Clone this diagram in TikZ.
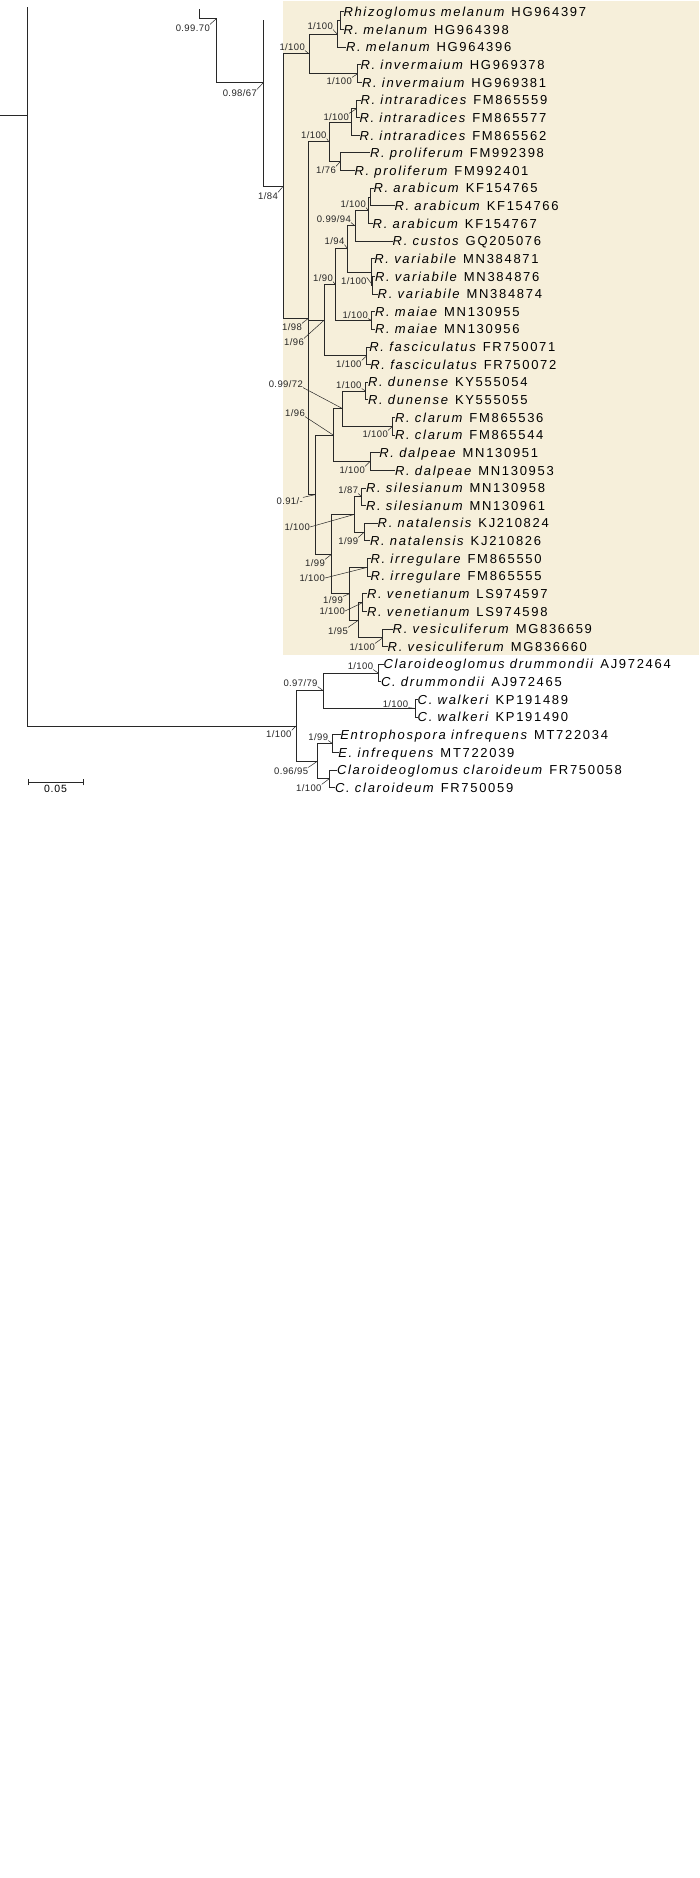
\documentclass[tikz,border=0pt]{standalone}
\usepackage{fontspec}
\newfontfamily\leaffam[LetterSpace=13]{Liberation Sans}
\newfontfamily\supfam[LetterSpace=4]{Liberation Sans}
\newfontfamily\barfam[LetterSpace=8]{Liberation Sans}
\definecolor{bgbeige}{RGB}{246,239,218}
\definecolor{treeline}{RGB}{40,40,40}
\tikzset{
  br/.style={draw=treeline,line width=1pt,line cap=rect},
  lead/.style={draw=treeline,line width=0.5pt},
  leaf/.style={anchor=west,inner sep=0pt,xshift=0.8pt,text height=9.3pt,text depth=0pt,font=\leaffam\fontsize{13}{15}\selectfont,text=black},
  sup/.style={anchor=east,inner sep=0pt,text height=6.8pt,text depth=0pt,font=\supfam\fontsize{9.5}{11}\selectfont,text=black!85},
}
\newcommand{\taxon}[2]{\textit{#1} #2}
\begin{document}
\begin{tikzpicture}[x=1pt,y=-1pt]
\useasboundingbox (0,0) rectangle (700,1878);
\fill[bgbeige] (283.3,1) rectangle (699,655);
% ---------- leaves ----------
\node[leaf] (l0) at (342.5,12.0) {\taxon{Rhizoglomus melanum}{HG964397}};
\node[leaf] (l1) at (342.5,29.6) {\taxon{R. melanum}{HG964398}};
\node[leaf] (l2) at (345.0,47.3) {\taxon{R. melanum}{HG964396}};
\node[leaf] (l3) at (359.5,64.9) {\taxon{R. invermaium}{HG969378}};
\node[leaf] (l4) at (361.0,82.5) {\taxon{R. invermaium}{HG969381}};
\node[leaf] (l5) at (359.5,100.2) {\taxon{R. intraradices}{FM865559}};
\node[leaf] (l6) at (358.5,117.8) {\taxon{R. intraradices}{FM865577}};
\node[leaf] (l7) at (358.5,135.4) {\taxon{R. intraradices}{FM865562}};
\node[leaf] (l8) at (369.0,153.0) {\taxon{R. proliferum}{FM992398}};
\node[leaf] (l9) at (353.5,170.7) {\taxon{R. proliferum}{FM992401}};
\node[leaf] (l10) at (372.5,188.3) {\taxon{R. arabicum}{KF154765}};
\node[leaf] (l11) at (393.5,205.9) {\taxon{R. arabicum}{KF154766}};
\node[leaf] (l12) at (371.7,223.6) {\taxon{R. arabicum}{KF154767}};
\node[leaf] (l13) at (391.7,241.2) {\taxon{R. custos}{GQ205076}};
\node[leaf] (l14) at (373.3,258.8) {\taxon{R. variabile}{MN384871}};
\node[leaf] (l15) at (374.0,276.5) {\taxon{R. variabile}{MN384876}};
\node[leaf] (l16) at (376.7,294.1) {\taxon{R. variabile}{MN384874}};
\node[leaf] (l17) at (374.0,311.7) {\taxon{R. maiae}{MN130955}};
\node[leaf] (l18) at (374.0,329.3) {\taxon{R. maiae}{MN130956}};
\node[leaf] (l19) at (368.3,347.0) {\taxon{R. fasciculatus}{FR750071}};
\node[leaf] (l20) at (369.3,364.6) {\taxon{R. fasciculatus}{FR750072}};
\node[leaf] (l21) at (367.0,382.2) {\taxon{R. dunense}{KY555054}};
\node[leaf] (l22) at (367.0,399.9) {\taxon{R. dunense}{KY555055}};
\node[leaf] (l23) at (394.0,417.5) {\taxon{R. clarum}{FM865536}};
\node[leaf] (l24) at (394.0,435.1) {\taxon{R. clarum}{FM865544}};
\node[leaf] (l25) at (378.3,452.8) {\taxon{R. dalpeae}{MN130951}};
\node[leaf] (l26) at (394.0,470.4) {\taxon{R. dalpeae}{MN130953}};
\node[leaf] (l27) at (365.0,488.0) {\taxon{R. silesianum}{MN130958}};
\node[leaf] (l28) at (365.0,505.6) {\taxon{R. silesianum}{MN130961}};
\node[leaf] (l29) at (376.7,523.3) {\taxon{R. natalensis}{KJ210824}};
\node[leaf] (l30) at (369.0,540.9) {\taxon{R. natalensis}{KJ210826}};
\node[leaf] (l31) at (369.5,558.5) {\taxon{R. irregulare}{FM865550}};
\node[leaf] (l32) at (369.5,576.2) {\taxon{R. irregulare}{FM865555}};
\node[leaf] (l33) at (366.0,593.8) {\taxon{R. venetianum}{LS974597}};
\node[leaf] (l34) at (366.0,611.4) {\taxon{R. venetianum}{LS974598}};
\node[leaf] (l35) at (391.7,629.1) {\taxon{R. vesiculiferum}{MG836659}};
\node[leaf] (l36) at (386.7,646.7) {\taxon{R. vesiculiferum}{MG836660}};
\node[leaf] (l37) at (382.5,664.3) {\taxon{Claroideoglomus drummondii}{AJ972464}};
\node[leaf] (l38) at (380.0,681.9) {\taxon{C. drummondii}{AJ972465}};
\node[leaf] (l39) at (416.7,699.6) {\taxon{C. walkeri}{KP191489}};
\node[leaf] (l40) at (416.7,717.2) {\taxon{C. walkeri}{KP191490}};
\node[leaf] (l41) at (339.3,734.8) {\taxon{Entrophospora infrequens}{MT722034}};
\node[leaf] (l42) at (337.3,752.5) {\taxon{E. infrequens}{MT722039}};
\node[leaf] (l43) at (336.0,770.1) {\taxon{Claroideoglomus claroideum}{FR750058}};
\node[leaf] (l44) at (334.0,787.7) {\taxon{C. claroideum}{FR750059}};
% ---------- internal nodes ----------
\coordinate (rstem) at (0,116);
\coordinate (root) at (27,116);
\coordinate (rtop) at (27,8);
\coordinate (n1top) at (199,10);
\coordinate (n2) at (216,19);
\coordinate (n3top) at (263,21);
\coordinate (n3) at (263,83);
\coordinate (D) at (283.3,186.1);
\coordinate (C) at (309.3,53.9);
\coordinate (B) at (337.3,34.05);
\coordinate (A) at (340,20.8);
\coordinate (E) at (357.7,73.7);
\coordinate (J) at (308.3,318.4);
\coordinate (I) at (329,142.0);
\coordinate (F) at (351,122.2);
\coordinate (G) at (356,109.0);
\coordinate (H) at (340,161.9);
\coordinate (S) at (324,320.3);
\coordinate (Q) at (335.5,284.7);
\coordinate (P) at (347.7,248.9);
\coordinate (N) at (355,225.8);
\coordinate (M) at (368.3,210.4);
\coordinate (L) at (370.5,197.1);
\coordinate (O) at (371,272.0);
\coordinate (O2) at (372.7,285.3);
\coordinate (R) at (371.7,320.5);
\coordinate (T) at (366.7,355.8);
\coordinate (Z) at (315,494.7);
\coordinate (Y) at (333.3,435.1);
\coordinate (W) at (342.7,408.7);
\coordinate (U) at (365.7,391.05);
\coordinate (V) at (392.7,426.3);
\coordinate (X) at (370,461.6);
\coordinate (AE) at (331.7,554.2);
\coordinate (AB) at (354,514.5);
\coordinate (AC) at (361.7,496.8);
\coordinate (AD) at (364.3,532.1);
\coordinate (AF) at (349.3,593.8);
\coordinate (IR) at (367.3,567.35);
\coordinate (AG) at (358.3,620.3);
\coordinate (AH) at (362.7,602.6);
\coordinate (AI) at (382.7,637.9);
\coordinate (OG) at (296,726.0);
\coordinate (OG1) at (323.3,690.75);
\coordinate (DR) at (378.3,673.1);
\coordinate (WK) at (415,708.4);
\coordinate (OG2) at (317.3,761.3);
\coordinate (EN) at (332.7,743.65);
\coordinate (CL) at (329,778.9);
% ---------- branches ----------
\draw[br] (rstem) -- (root);
\draw[br] (rtop) |- (OG);
\draw[br] (n1top) |- (n2);
\draw[br] (n2) |- (n3);
\draw[br] (n3top) -- (n3);
\draw[br] (n3) |- (D);
\draw[br] (D) |- (C);
\draw[br] (D) |- (J);
\draw[br] (C) |- (B);
\draw[br] (C) |- (E);
\draw[br] (B) |- (A);
\draw[br] (B) |- (l2.west);
\draw[br] (A) |- (l0.west);
\draw[br] (A) |- (l1.west);
\draw[br] (E) |- (l3.west);
\draw[br] (E) |- (l4.west);
\draw[br] (J) |- (I);
\draw[br] (J) |- (S);
\draw[br] (J) |- (Z);
\draw[br] (I) |- (F);
\draw[br] (I) |- (H);
\draw[br] (F) |- (G);
\draw[br] (F) |- (l7.west);
\draw[br] (G) |- (l5.west);
\draw[br] (G) |- (l6.west);
\draw[br] (H) |- (l8.west);
\draw[br] (H) |- (l9.west);
\draw[br] (S) |- (Q);
\draw[br] (S) |- (T);
\draw[br] (Q) |- (P);
\draw[br] (Q) |- (R);
\draw[br] (P) |- (N);
\draw[br] (P) |- (O);
\draw[br] (N) |- (M);
\draw[br] (N) |- (l13.west);
\draw[br] (M) |- (L);
\draw[br] (M) |- (l12.west);
\draw[br] (L) |- (l10.west);
\draw[br] (L) |- (l11.west);
\draw[br] (O) |- (l14.west);
\draw[br] (O) |- (O2);
\draw[br] (O2) |- (l15.west);
\draw[br] (O2) |- (l16.west);
\draw[br] (R) |- (l17.west);
\draw[br] (R) |- (l18.west);
\draw[br] (T) |- (l19.west);
\draw[br] (T) |- (l20.west);
\draw[br] (Z) |- (Y);
\draw[br] (Z) |- (AE);
\draw[br] (Y) |- (W);
\draw[br] (Y) |- (X);
\draw[br] (W) |- (U);
\draw[br] (W) |- (V);
\draw[br] (U) |- (l21.west);
\draw[br] (U) |- (l22.west);
\draw[br] (V) |- (l23.west);
\draw[br] (V) |- (l24.west);
\draw[br] (X) |- (l25.west);
\draw[br] (X) |- (l26.west);
\draw[br] (AE) |- (AB);
\draw[br] (AE) |- (AF);
\draw[br] (AB) |- (AC);
\draw[br] (AB) |- (AD);
\draw[br] (AC) |- (l27.west);
\draw[br] (AC) |- (l28.west);
\draw[br] (AD) |- (l29.west);
\draw[br] (AD) |- (l30.west);
\draw[br] (AF) |- (IR);
\draw[br] (AF) |- (AG);
\draw[br] (IR) |- (l31.west);
\draw[br] (IR) |- (l32.west);
\draw[br] (AG) |- (AH);
\draw[br] (AG) |- (AI);
\draw[br] (AH) |- (l33.west);
\draw[br] (AH) |- (l34.west);
\draw[br] (AI) |- (l35.west);
\draw[br] (AI) |- (l36.west);
\draw[br] (OG) |- (OG1);
\draw[br] (OG) |- (OG2);
\draw[br] (OG1) |- (DR);
\draw[br] (OG1) |- (WK);
\draw[br] (DR) |- (l37.west);
\draw[br] (DR) |- (l38.west);
\draw[br] (WK) |- (l39.west);
\draw[br] (WK) |- (l40.west);
\draw[br] (OG2) |- (EN);
\draw[br] (OG2) |- (CL);
\draw[br] (EN) |- (l41.west);
\draw[br] (EN) |- (l42.west);
\draw[br] (CL) |- (l43.west);
\draw[br] (CL) |- (l44.west);
% ---------- support labels ----------
\node[sup] (s2) at (210,28) {0.99.70};      \draw[lead] (s2.north east) -- (n2);
\node[sup] (s3) at (257,93) {0.98/67};      \draw[lead] (s3.north east) -- (n3);
\node[sup] (sD) at (278,196) {1/84};        \draw[lead] (sD.north east) -- (D);
\node[sup] (sB) at (333,26) {1/100};        \draw[lead] (sB.south east) -- (B);
\node[sup] (sC) at (305,47) {1/100};        \draw[lead] (sC.south east) -- (C);
\node[sup] (sE) at (352,81) {1/100};        \draw[lead] (sE.north east) -- (E);
\node[sup] (sG) at (349,117) {1/100};       \draw[lead] (sG.north east) -- (G);
\node[sup] (sI) at (326.7,135) {1/100};     \draw[lead] (sI.south east) -- (I);
\node[sup] (sH) at (336,170) {1/76};        \draw[lead] (sH.north east) -- (H);
\node[sup] (sM) at (366,204) {1/100};       \draw[lead] (sM.south east) -- (M);
\node[sup] (sN) at (351,219) {0.99/94};     \draw[lead] (sN.south east) -- (N);
\node[sup] (sP) at (344.5,241) {1/94};      \draw[lead] (sP.south east) -- (P);
\node[sup] (sO) at (366.7,281) {1/100};     \draw[lead] (sO.north east) -- (O2);
\node[sup] (sQ) at (333,278) {1/90};        \draw[lead] (sQ.south east) -- (Q);
\node[sup] (sR) at (368,315) {1/100};       \draw[lead] (sR.south east) -- (R);
\node[sup] (sJ) at (302,327) {1/98};        \draw[lead] (sJ.north east) -- (J);
\node[sup] (sS) at (304,342) {1/96};        \draw[lead] (sS.north east) -- (S);
\node[sup] (sT) at (361.7,364) {1/100};     \draw[lead] (sT.north east) -- (T);
\node[sup] (sU) at (361.7,385) {1/100};     \draw[lead] (sU.south east) -- (U);
\node[sup] (sW) at (303,384) {0.99/72};     \draw[lead] (sW.south east) -- (W);
\node[sup] (sV) at (388,434) {1/100};       \draw[lead] (sV.north east) -- (V);
\node[sup] (sY) at (305,413) {1/96};        \draw[lead] (sY.south east) -- (Y);
\node[sup] (sX) at (365,470) {1/100};       \draw[lead] (sX.north east) -- (X);
\node[sup] (sZ) at (303,501) {0.91/-};      \draw[lead] (sZ.north east) -- (Z);
\node[sup] (sAC) at (358.3,490) {1/87};     \draw[lead] (sAC.south east) -- (AC);
\node[sup] (sAB) at (310,527) {1/100};      \draw[lead] (sAB.east) -- (AB);
\node[sup] (sAD) at (358.3,541) {1/99};     \draw[lead] (sAD.north east) -- (AD);
\node[sup] (sAE) at (325,563) {1/99};       \draw[lead] (sAE.north east) -- (AE);
\node[sup] (sIR) at (325,578) {1/100};      \draw[lead] (sIR.east) -- (IR);
\node[sup] (sAF) at (343,600) {1/99};       \draw[lead] (sAF.north east) -- (AF);
\node[sup] (sAH) at (345,611) {1/100};      \draw[lead] (sAH.east) -- (AH);
\node[sup] (sAG) at (348,631) {1/95};       \draw[lead] (sAG.north east) -- (AG);
\node[sup] (sAI) at (375,647) {1/100};      \draw[lead] (sAI.north east) -- (AI);
\node[sup] (sDR) at (373.3,666) {1/100};    \draw[lead] (sDR.south east) -- (DR);
\node[sup] (sOG1) at (317.7,683) {0.97/79}; \draw[lead] (sOG1.south east) -- (OG1);
\node[sup] (sWK) at (408.3,704) {1/100};    \draw[lead] (sWK.south east) -- (WK);
\node[sup] (sOG) at (291.7,734) {1/100};    \draw[lead] (sOG.north east) -- (OG);
\node[sup] (sEN) at (328.3,737) {1/99};     \draw[lead] (sEN.south east) -- (EN);
\node[sup] (sOG2) at (308.3,771) {0.96/95}; \draw[lead] (sOG2.north east) -- (OG2);
\node[sup] (sCL) at (321.7,788) {1/100};    \draw[lead] (sCL.north east) -- (CL);
% ---------- scale bar ----------
\coordinate (sb1) at (28,782);
\coordinate (sb2) at (83,782);
\draw[br,line width=0.9pt] (sb1) -- (sb2);
\draw[br,line width=0.9pt] ([yshift=-3pt]sb1) -- ([yshift=3pt]sb1);
\draw[br,line width=0.9pt] ([yshift=-3pt]sb2) -- ([yshift=3pt]sb2);
\node[inner sep=0pt,anchor=north,font=\barfam\fontsize{10.5}{12}\selectfont] (sbl) at (55.5,785) {0.05};
\end{tikzpicture}
\end{document}
